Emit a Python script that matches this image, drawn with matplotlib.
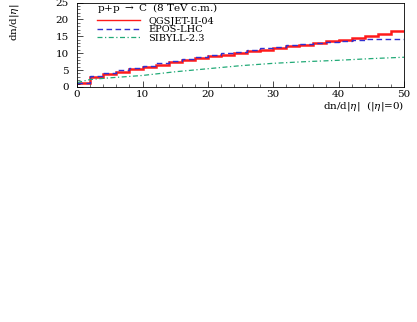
import numpy as np
import matplotlib
matplotlib.use("Agg")
import matplotlib.pyplot as plt

# bin edges of dn/d|eta| for p+p, and mean multiplicity for p+C
edges = np.arange(0, 52, 2)
qgsjet = [1.2, 3.0, 3.7, 4.5, 5.3, 6.0, 6.6, 7.3, 7.9, 8.5, 9.1, 9.6, 10.1,
          10.6, 11.0, 11.5, 12.0, 12.5, 13.0, 13.5, 14.0, 14.6, 15.2, 15.8, 16.6]
epos = [1.3, 3.2, 4.0, 4.9, 5.6, 6.3, 7.0, 7.7, 8.3, 8.9, 9.5, 10.0, 10.5,
        11.0, 11.4, 11.9, 12.3, 12.7, 13.1, 13.4, 13.7, 13.9, 14.1, 14.2, 14.3]
sib_x = [0, 2, 5, 10, 15, 20, 25, 30, 35, 40, 45, 50]
sib_y = [1.3, 2.2, 2.7, 3.4, 4.5, 5.4, 6.3, 7.0, 7.5, 7.9, 8.4, 8.8]

plt.rcParams["font.family"] = ["DejaVu Serif"]
plt.rcParams["font.size"] = 7.5
plt.rcParams["mathtext.fontset"] = "dejavuserif"

fig = plt.figure(figsize=(4.17, 3.22), dpi=100)
ax = fig.add_axes([0.185, 0.730, 0.784, 0.262])

ax.stairs(qgsjet, edges, color="#ff1a1a", lw=1.8, baseline=None)
ax.stairs(epos, edges, color="#3030d0", lw=1.0, ls=(0, (4, 2.5)), baseline=None)
ax.plot(sib_x, sib_y, color="#22aa77", lw=0.9, ls=(0, (4, 2, 1, 2)))

# legend handles drawn thinner, as in the original
ax.plot([], [], color="#ff1a1a", lw=1.0, label="QGSJET-II-04")
ax.plot([], [], color="#3030d0", lw=1.0, ls=(0, (4, 2.5)), label="EPOS-LHC")
ax.plot([], [], color="#22aa77", lw=0.9, ls=(0, (4, 2, 1, 2)), label="SIBYLL-2.3")

ax.set_xlim(0, 50)
ax.set_ylim(0, 25)
ax.set_xticks([0, 10, 20, 30, 40, 50])
ax.set_yticks([0, 5, 10, 15, 20, 25])
ax.set_xticks(np.arange(0, 51, 2), minor=True)
ax.set_yticks(np.arange(0, 26, 1), minor=True)
ax.tick_params(which="both", direction="in", top=False, right=False)
ax.tick_params(axis="x", pad=2)
ax.tick_params(axis="y", pad=6)
ax.tick_params(which="major", length=4, width=0.5)
ax.tick_params(which="minor", length=2, width=0.4)
for s in ax.spines.values():
    s.set_linewidth(0.6)

ax.text(0.06, 0.93, r"p+p $\rightarrow$ C  (8 TeV c.m.)", transform=ax.transAxes,
        va="center")
ax.legend(loc="upper left", bbox_to_anchor=(0.05, 0.88), frameon=False, fontsize=7,
          handlelength=4.4, labelspacing=-0.05, borderaxespad=0, handletextpad=0.85)

ax.set_xlabel(r"dn/d|$\eta$|  (|$\eta$|=0)", loc="right", labelpad=0)
fig.text(0.02, 0.99, r"dn/d|$\eta$|", rotation=90, ha="left", va="top")

fig.savefig("out.png", dpi=100)
